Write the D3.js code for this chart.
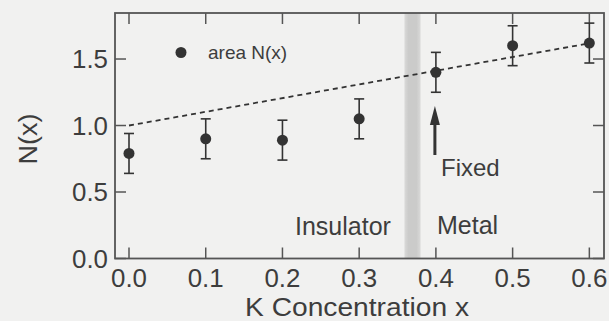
<!DOCTYPE html>
<html>
<head>
<meta charset="utf-8">
<script src="https://cdn.jsdelivr.net/npm/d3@7"></script>
<style>
  html, body { margin: 0; padding: 0; background: #f1f1f0; }
  svg { display: block; }
  text { font-family: "Liberation Sans", Arial, Helvetica, sans-serif; fill: #3d3d3d; }
</style>
</head>
<body>
<svg id="chart" width="609" height="321"></svg>
<script>
// K concentration values and measured area N(x) with error bars
const concentrations = [0.0, 0.1, 0.2, 0.3, 0.4, 0.5, 0.6];
const areaN = [0.79, 0.90, 0.89, 1.05, 1.40, 1.60, 1.62];
const areaErr = [0.15, 0.15, 0.15, 0.15, 0.15, 0.15, 0.15];

// tick values and labels
const xTicks = [0.0, 0.1, 0.2, 0.3, 0.4, 0.5, 0.6];
const xTickLabels = ["0.0", "0.1", "0.2", "0.3", "0.4", "0.5", "0.6"];
const yTicks = [0.0, 0.5, 1.0, 1.5];
const yTickLabels = ["0.0", "0.5", "1.0", "1.5"];

// linear guide N = a + b x
const fitIntercept = 1.0;
const fitSlope = 1.03;
const fitRange = [0.0, 0.6];

// insulator / metal boundary band
const boundary = [0.359, 0.380];
const fixedX = 0.4;

const svg = d3.select("#chart");
const plotLeft = 115, plotRight = 604, plotTop = 13, plotBottom = 258.5;

const x = d3.scaleLinear().domain([-0.01825, 0.6191]).range([plotLeft, plotRight]);
const y = d3.scaleLinear().domain([0, 1.846]).range([plotBottom, plotTop]);

const ink = "#333";
const axisInk = "#555";

// boundary band
const defs = svg.append("defs");
const grad = defs.append("linearGradient").attr("id", "band").attr("x1", 0).attr("x2", 1);
grad.append("stop").attr("offset", "0%").attr("stop-color", "#dadad9");
grad.append("stop").attr("offset", "25%").attr("stop-color", "#cbcbca");
grad.append("stop").attr("offset", "75%").attr("stop-color", "#cbcbca");
grad.append("stop").attr("offset", "100%").attr("stop-color", "#dadad9");
svg.append("rect")
  .attr("x", x(boundary[0])).attr("y", plotTop)
  .attr("width", x(boundary[1]) - x(boundary[0]))
  .attr("height", plotBottom - plotTop)
  .attr("fill", "url(#band)");

// frame
svg.append("rect")
  .attr("x", plotLeft).attr("y", plotTop)
  .attr("width", plotRight - plotLeft).attr("height", plotBottom - plotTop)
  .attr("fill", "none").attr("stroke", axisInk).attr("stroke-width", 1.8);

// inward ticks on all four sides
const tickLen = 11;
const g = svg.append("g").attr("stroke", axisInk).attr("stroke-width", 1.5);
xTicks.forEach(v => {
  g.append("line").attr("x1", x(v)).attr("x2", x(v)).attr("y1", plotBottom).attr("y2", plotBottom - tickLen);
  g.append("line").attr("x1", x(v)).attr("x2", x(v)).attr("y1", plotTop).attr("y2", plotTop + tickLen);
});
yTicks.forEach(v => {
  g.append("line").attr("x1", plotLeft).attr("x2", plotLeft + tickLen).attr("y1", y(v)).attr("y2", y(v));
  g.append("line").attr("x1", plotRight).attr("x2", plotRight - tickLen).attr("y1", y(v)).attr("y2", y(v));
});

// tick labels
svg.append("g").selectAll("text").data(xTicks).join("text")
  .attr("x", d => x(d)).attr("y", 287)
  .attr("text-anchor", "middle").attr("font-size", 25)
  .attr("textLength", 36).attr("lengthAdjust", "spacingAndGlyphs")
  .text((d, i) => xTickLabels[i]);
svg.append("g").selectAll("text").data(yTicks).join("text")
  .attr("x", 108).attr("y", d => y(d)).attr("dy", "0.36em")
  .attr("text-anchor", "end").attr("font-size", 25)
  .attr("textLength", 36).attr("lengthAdjust", "spacingAndGlyphs")
  .text((d, i) => yTickLabels[i]);

// axis titles
svg.append("text").attr("x", 357).attr("y", 316)
  .attr("text-anchor", "middle").attr("font-size", 25)
  .attr("textLength", 224).attr("lengthAdjust", "spacingAndGlyphs")
  .text("K Concentration x");
svg.append("text").attr("transform", "translate(37,139) rotate(-90)")
  .attr("text-anchor", "middle").attr("font-size", 26)
  .attr("textLength", 51).attr("lengthAdjust", "spacingAndGlyphs")
  .text("N(x)");

// dashed guide line
svg.append("line")
  .attr("x1", x(fitRange[0])).attr("y1", y(fitIntercept + fitSlope * fitRange[0]))
  .attr("x2", x(fitRange[1])).attr("y2", y(fitIntercept + fitSlope * fitRange[1]))
  .attr("stroke", ink).attr("stroke-width", 1.8).attr("stroke-dasharray", "5,4");

// error bars
const pts = concentrations.map((c, i) => ({ c, v: areaN[i], e: areaErr[i] }));
const eb = svg.append("g").attr("stroke", ink).attr("stroke-width", 1.6);
pts.forEach(p => {
  eb.append("line").attr("x1", x(p.c)).attr("x2", x(p.c)).attr("y1", y(p.v - p.e)).attr("y2", y(p.v + p.e));
  [p.v - p.e, p.v + p.e].forEach(v => {
    eb.append("line").attr("x1", x(p.c) - 5).attr("x2", x(p.c) + 5).attr("y1", y(v)).attr("y2", y(v));
  });
});

// data points
svg.append("g").selectAll("circle").data(pts).join("circle")
  .attr("cx", d => x(d.c)).attr("cy", d => y(d.v)).attr("r", 5.5)
  .attr("fill", ink);

// legend
svg.append("circle").attr("cx", 181).attr("cy", 52.5).attr("r", 5.5).attr("fill", ink);
svg.append("text").attr("x", 208).attr("y", 58.5).attr("font-size", 19).text("area N(x)");

// "Fixed" arrow at x = 0.4
const ax = x(fixedX) - 1;
svg.append("line").attr("x1", ax).attr("x2", ax).attr("y1", 155).attr("y2", 122)
  .attr("stroke", ink).attr("stroke-width", 3);
svg.append("path")
  .attr("d", `M${ax},106 L${ax - 5},125 L${ax + 5},125 Z`)
  .attr("fill", ink);
svg.append("text").attr("x", 441).attr("y", 176).attr("font-size", 24).text("Fixed");

// region labels
svg.append("text").attr("x", 295).attr("y", 235).attr("font-size", 25).text("Insulator");
svg.append("text").attr("x", 437).attr("y", 234).attr("font-size", 25).text("Metal");
</script>
</body>
</html>
